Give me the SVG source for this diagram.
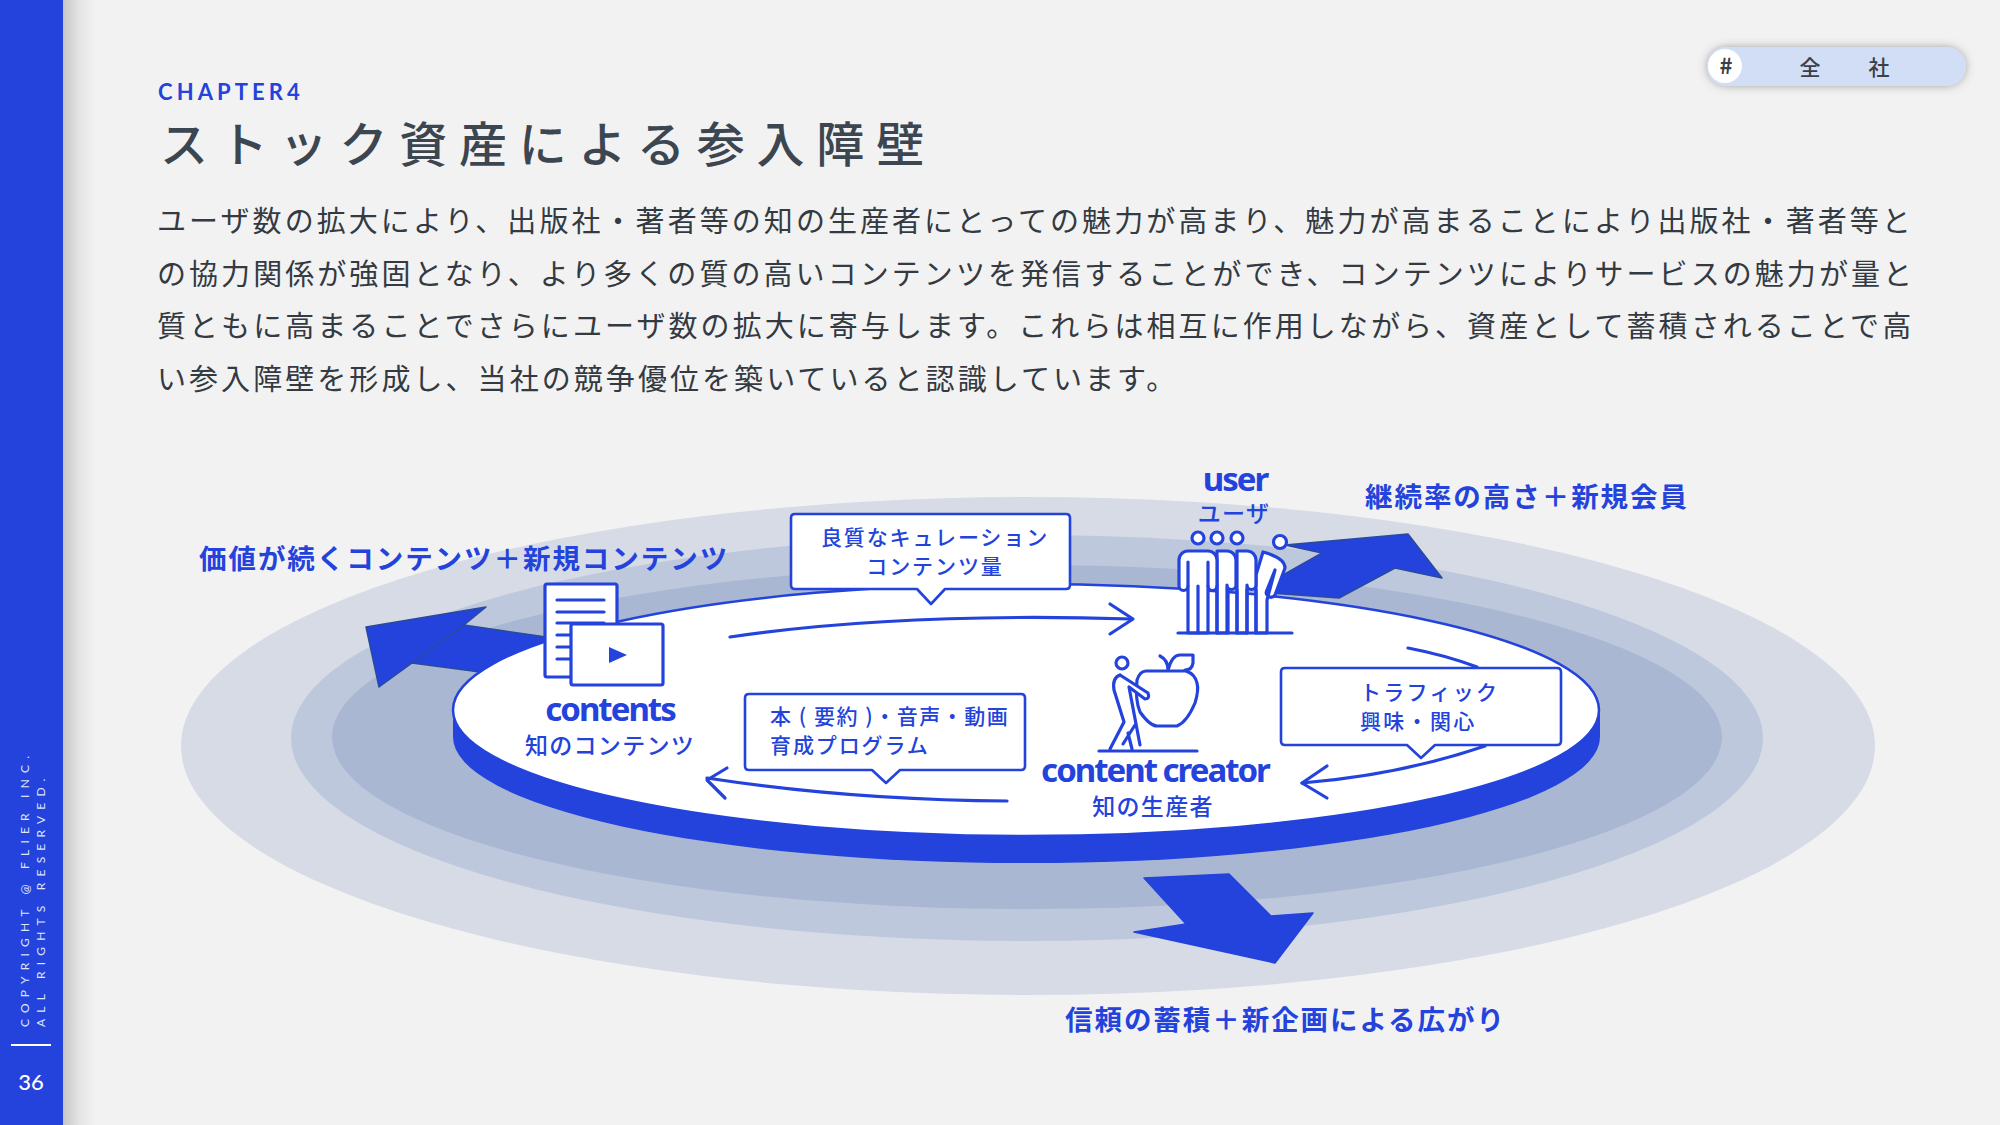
<svg xmlns="http://www.w3.org/2000/svg" width="2000" height="1125" viewBox="0 0 2000 1125">
<defs>
<linearGradient id="sideShadow" x1="0" x2="1" y1="0" y2="0"><stop offset="0" stop-color="#c4c4c4"/><stop offset="0.5" stop-color="#e4e4e4"/><stop offset="1" stop-color="#f2f2f2"/></linearGradient>
<filter id="pillShadow" x="-10%" y="-40%" width="120%" height="180%"><feDropShadow dx="0" dy="0" stdDeviation="4" flood-color="#555" flood-opacity="0.5"/></filter>
</defs>
<style>
text{font-family:"Noto Sans CJK JP","Noto Sans",sans-serif;}
.blue{fill:#2343dc;}
.ln{fill:none;stroke:#2343dc;stroke-width:3.2;stroke-linecap:round;stroke-linejoin:round;}
.wln{fill:#fff;stroke:#2343dc;stroke-width:3.2;stroke-linecap:round;stroke-linejoin:round;}
.bb{fill:#fff;stroke:#2343dc;stroke-width:2.6;stroke-linejoin:round;}
.arrow{fill:#2343dc;stroke:#2a4a9c;stroke-width:1.5;stroke-linejoin:round;}
.body{font-size:29px;letter-spacing:3.06px;fill:#333a42;}
.lab{font-size:27.5px;font-weight:700;letter-spacing:1.95px;fill:#2343dc;}
.en{font-family:"Noto Sans",sans-serif;font-weight:700;font-size:33px;letter-spacing:-2px;fill:#2343dc;text-anchor:middle;}
.ja{font-size:23px;font-weight:500;letter-spacing:1.3px;fill:#2343dc;text-anchor:middle;}
.bub{font-size:21px;font-weight:500;letter-spacing:1.9px;fill:#2343dc;}
.side{font-family:Lato,sans-serif;font-size:12px;letter-spacing:6.2px;fill:#dfe5fb;}
</style>
<rect width="2000" height="1125" fill="#f2f2f2"/>
<rect x="62" y="0" width="34" height="1125" fill="url(#sideShadow)"/>
<g id="sidebar">
<rect x="0" y="0" width="63" height="1125" fill="#2343dc"/>
<text class="side" transform="translate(29 1027) rotate(-90)">COPYRIGHT @ FLIER INC.</text>
<text class="side" transform="translate(45 1027) rotate(-90)">ALL RIGHTS RESERVED.</text>
<rect x="11" y="1044" width="40" height="2" fill="#fff"/>
<text x="31" y="1090" text-anchor="middle" style="font-family:Lato,sans-serif;font-size:22px;font-weight:500" fill="#fff">36</text>
</g>
<g id="tag">
<rect x="1707" y="47" width="259" height="39" rx="19.5" fill="#d2def5" filter="url(#pillShadow)"/>
<circle cx="1725" cy="66" r="17" fill="#fff"/>
<text x="1726" y="74" text-anchor="middle" font-size="22" font-weight="700" fill="#3a4048">#</text>
<text x="1810" y="75" text-anchor="middle" font-size="21" font-weight="500" fill="#3a4048">全</text>
<text x="1879" y="75" text-anchor="middle" font-size="21" font-weight="500" fill="#3a4048">社</text>
</g>
<g id="header">
<text x="158" y="100" style="font-family:Lato,sans-serif;font-size:22px;font-weight:700;letter-spacing:4.1px" fill="#2343dc">CHAPTER4</text>
<text x="160" y="162" font-size="48" font-weight="500" letter-spacing="11.8" fill="#3c4650">ストック資産による参入障壁</text>
<text class="body" x="157" y="232">ユーザ数の拡大により、出版社・著者等の知の生産者にとっての魅力が高まり、魅力が高まることにより出版社・著者等と</text>
<text class="body" x="157" y="285">の協力関係が強固となり、より多くの質の高いコンテンツを発信することができ、コンテンツによりサービスの魅力が量と</text>
<text class="body" x="157" y="337">質ともに高まることでさらにユーザ数の拡大に寄与します。これらは相互に作用しながら、資産として蓄積されることで高</text>
<text class="body" x="157" y="390">い参入障壁を形成し、当社の競争優位を築いていると認識しています。</text>
</g>
<g id="rings">
<ellipse cx="1028" cy="746" rx="847" ry="249" fill="#d6dbe6"/>
<ellipse cx="1027" cy="738" rx="736" ry="203" fill="#bdc8dc"/>
<ellipse cx="1027" cy="737" rx="695" ry="172" fill="#a9b7d3"/>
</g>
<g id="growth-arrows">
<polygon class="arrow" points="366,627 486,607 464,625 560,639 540,680 480,672 412,663 379,687"/>
<path d="M464,625 L412,663" fill="none" stroke="#2a4a9c" stroke-width="1.5"/>
<polygon class="arrow" points="1285,545 1408,534 1442,578 1395,568 1339,598 1270,593 1283,575 1322,553"/>
<polygon points="1144,878 1229,874 1271,916 1313,913 1275,963 1134,932 1186,924" fill="#2343dc" stroke="#2343dc" stroke-width="1.5" stroke-linejoin="round"/>
</g>
<g id="platform">
<path d="M453,710 V737 A573,126 0 0 0 1600,737 V710 Z" fill="#2343dc"/>
<ellipse cx="1026" cy="710" rx="573" ry="126" fill="#fff" stroke="#2343dc" stroke-width="2.5"/>
</g>
<g id="connectors">
<path class="ln" d="M730,637 Q900,612 1132,619"/>
<path class="ln" d="M1110,604 L1133,619 L1110,634"/>
<path class="ln" d="M1408,648 Q1445,655 1477,667"/>
<path class="ln" d="M1485,746 Q1400,775 1302,783"/>
<path class="ln" d="M1327,766 L1302,783 L1327,798"/>
<path class="ln" d="M1007,801 Q850,800 707,778"/>
<path class="ln" d="M727,768 L707,780 L725,798"/>
</g>
<g id="node-contents">
<rect class="wln" x="545" y="584" width="72" height="93" rx="2"/>
<path class="ln" d="M557,600 H604 M557,612 H604 M557,623 H604 M557,635 H572 M557,647 H572 M557,659 H572"/>
<rect class="wln" x="571" y="624" width="92" height="61" rx="2"/>
<polygon class="blue" points="609,647 627,655 609,663"/>
<text class="en" x="610" y="721">contents</text>
<text class="ja" x="610" y="754">知のコンテンツ</text>
</g>
<g id="node-user">
<text class="en" x="1235" y="491">user</text>
<text class="ja" x="1234" y="522">ユーザ</text>
<g class="wln">
<circle cx="1198" cy="538" r="6"/><circle cx="1217" cy="538" r="6"/><circle cx="1237" cy="538" r="6"/><circle cx="1280" cy="542" r="6.5"/>
</g>
<path class="wln" d="M1263,552 Q1285,558 1285,568 L1275,595 Q1272,599 1268,596 Q1265,594 1267,590 L1275,570 L1267,600 V633 H1256 V575 Z"/>
<path class="wln" d="M1242,551 H1247 A9,9 0 0 1 1256,560 V585 A4.5,4.5 0 0 1 1247,585 V633 H1237 V551 Z"/>
<path class="wln" d="M1222,551 H1227 A9,9 0 0 1 1236,560 V585 A4.5,4.5 0 0 1 1227,585 V633 H1217 V551 Z"/>
<path class="wln" d="M1188,633 V586 A4.5,4.5 0 0 1 1179,586 V560 A9,9 0 0 1 1188,551 H1208 A9,9 0 0 1 1217,560 V586 A4.5,4.5 0 0 1 1208,586 V633 Z"/>
<path class="ln" d="M1188,562 V586 M1208,562 V586 M1198,586 V633 M1217,586 V633 M1228,590 V633 M1237,590 V633 M1247,590 V633 M1256,590 V633"/>
<path class="ln" d="M1178,633 H1292"/>
</g>
<g id="node-creator">
<path class="wln" d="M1168,671 H1146 Q1140,671 1137,680 Q1135,700 1140,712 Q1150,726 1157,726 H1177 Q1187,722 1195,703 Q1199,690 1197,683 Q1195,674 1186,671 Z"/>
<path class="ln" d="M1168,670 Q1172,655 1180,655 H1193 V663 Q1192,670 1185,670 M1168,670 Q1168,660 1160,656"/>
<circle class="ln" cx="1122" cy="663" r="6"/>
<path class="wln" d="M1120,675 Q1112,678 1114,690 L1124,722 L1110,749 M1120,675 L1148,693 Q1150,699 1145,699 L1129,687 L1140,745 M1123,744 L1135,725 M1128,733 L1132,749"/>
<path class="ln" d="M1099,751 H1197"/>
<text class="en" x="1155" y="782">content creator</text>
<text class="ja" x="1153" y="815">知の生産者</text>
</g>
<g id="bubble-top">
<path class="bb" d="M795,514 H1066 Q1070,514 1070,518 V585 Q1070,589 1066,589 H945 L931,604 L917,589 H795 Q791,589 791,585 V518 Q791,514 795,514 Z"/>
<text class="bub" x="935" y="545" text-anchor="middle">良質なキュレーション</text>
<text class="bub" x="935" y="574" text-anchor="middle">コンテンツ量</text>
</g>
<g id="bubble-bottom">
<path class="bb" d="M749,694 H1021 Q1025,694 1025,698 V766 Q1025,770 1021,770 H900 L886,783 L872,770 H749 Q745,770 745,766 V698 Q745,694 749,694 Z"/>
<text class="bub" x="770" y="724" style="letter-spacing:1.5px">本 ( 要約 )・音声・動画</text>
<text class="bub" x="770" y="753">育成プログラム</text>
</g>
<g id="bubble-right">
<path class="bb" d="M1285,668 H1557 Q1561,668 1561,672 V741 Q1561,745 1557,745 H1435 L1421,758 L1407,745 H1285 Q1281,745 1281,741 V672 Q1281,668 1285,668 Z"/>
<text class="bub" x="1360" y="700" style="letter-spacing:2.3px">トラフィック</text>
<text class="bub" x="1360" y="729" style="letter-spacing:2.3px">興味・関心</text>
</g>
<g id="labels">
<text class="lab" x="199" y="569">価値が続くコンテンツ＋新規コンテンツ</text>
<text class="lab" x="1365" y="507">継続率の高さ＋新規会員</text>
<text class="lab" x="1065" y="1030">信頼の蓄積＋新企画による広がり</text>
</g>
</svg>
